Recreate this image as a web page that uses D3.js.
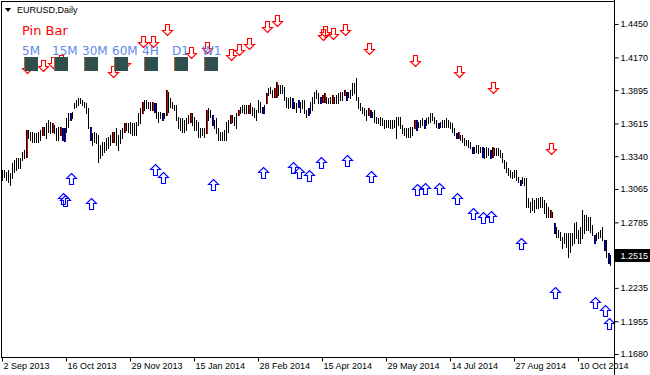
<!DOCTYPE html>
<html>
<head>
<meta charset="utf-8">
<script src="https://cdn.jsdelivr.net/npm/d3@7"></script>
<style>
  body { margin: 0; background: #fff; }
  svg { display: block; }
  .axis text { font-family: "Liberation Sans", Arial, sans-serif; font-size: 9px; fill: #000; }
  .axis line { stroke: #000; }
</style>
</head>
<body>
<svg id="chart" width="650" height="375"></svg>
<script>
// daily highs / lows, EURUSD, 2 Sep 2013 .. end Oct 2014
const highs = [
  1.3225,1.3225,1.3211,1.3225,1.3197,1.3281,1.3309,1.3323,1.3323,1.3323,
  1.3379,1.3393,1.3561,1.3561,1.3547,1.3547,1.3533,1.3533,1.3547,1.3561,
  1.3589,1.3589,1.3617,1.3644,1.3631,1.3617,1.3603,1.3575,1.3589,1.3589,
  1.3575,1.3575,1.3658,1.3700,1.3700,1.3714,1.3784,1.3812,1.3826,1.3826,
  1.3812,1.3798,1.3784,1.3742,1.3589,1.3533,1.3547,1.3533,1.3519,1.3435,
  1.3463,1.3463,1.3491,1.3505,1.3519,1.3547,1.3547,1.3575,1.3519,1.3561,
  1.3575,1.3617,1.3617,1.3617,1.3631,1.3617,1.3617,1.3631,1.3700,1.3742,
  1.3798,1.3812,1.3812,1.3798,1.3798,1.3798,1.3784,1.3784,1.3714,1.3714,
  1.3700,1.3700,1.3896,1.3882,1.3826,1.3798,1.3770,1.3770,1.3672,1.3658,
  1.3658,1.3644,1.3658,1.3686,1.3700,1.3700,1.3672,1.3644,1.3631,1.3575,
  1.3575,1.3575,1.3728,1.3742,1.3728,1.3686,1.3644,1.3658,1.3575,1.3547,
  1.3547,1.3561,1.3631,1.3644,1.3686,1.3686,1.3672,1.3700,1.3728,1.3756,
  1.3770,1.3770,1.3770,1.3770,1.3784,1.3756,1.3742,1.3728,1.3812,1.3798,
  1.3756,1.3770,1.3868,1.3910,1.3924,1.3896,1.3910,1.3966,1.3938,1.3938,
  1.3938,1.3924,1.3840,1.3826,1.3840,1.3826,1.3798,1.3784,1.3812,1.3798,
  1.3812,1.3812,1.3728,1.3742,1.3798,1.3840,1.3882,1.3896,1.3868,1.3840,
  1.3854,1.3868,1.3840,1.3826,1.3840,1.3854,1.3840,1.3854,1.3868,1.3882,
  1.3882,1.3896,1.3882,1.3882,1.3896,1.3952,1.3952,1.3994,1.3840,1.3784,
  1.3756,1.3742,1.3728,1.3742,1.3728,1.3714,1.3728,1.3672,1.3658,1.3672,
  1.3658,1.3644,1.3644,1.3644,1.3644,1.3644,1.3644,1.3672,1.3672,1.3672,
  1.3603,1.3575,1.3575,1.3575,1.3589,1.3589,1.3644,1.3644,1.3631,1.3644,
  1.3658,1.3644,1.3658,1.3672,1.3700,1.3700,1.3672,1.3644,1.3617,1.3631,
  1.3644,1.3644,1.3658,1.3644,1.3631,1.3617,1.3575,1.3533,1.3547,1.3519,
  1.3519,1.3491,1.3477,1.3477,1.3463,1.3421,1.3421,1.3435,1.3435,1.3421,
  1.3421,1.3407,1.3421,1.3407,1.3393,1.3421,1.3407,1.3407,1.3407,1.3393,
  1.3365,1.3309,1.3295,1.3239,1.3225,1.3211,1.3225,1.3225,1.3169,1.3141,
  1.3169,1.3155,1.3155,1.2987,1.2959,1.2987,1.2973,1.2987,1.2987,1.3001,
  1.3001,1.2973,1.2945,1.2917,1.2889,1.2875,1.2778,1.2750,1.2722,1.2708,
  1.2666,1.2694,1.2694,1.2694,1.2694,1.2694,1.2778,1.2791,1.2722,1.2750,
  1.2889,1.2847,1.2847,1.2833,1.2833,1.2764,1.2680,1.2694,1.2708,1.2722,
  1.2750,1.2638,1.2638,1.2526,1.2512
];
const lows = [
  1.3141,1.3169,1.3141,1.3127,1.3099,1.3155,1.3211,1.3225,1.3239,1.3239,
  1.3309,1.3323,1.3337,1.3491,1.3477,1.3463,1.3463,1.3463,1.3463,1.3477,
  1.3519,1.3519,1.3491,1.3547,1.3533,1.3547,1.3533,1.3477,1.3477,1.3519,
  1.3477,1.3470,1.3547,1.3589,1.3644,1.3658,1.3742,1.3756,1.3770,1.3784,
  1.3770,1.3756,1.3700,1.3575,1.3477,1.3435,1.3463,1.3449,1.3295,1.3323,
  1.3351,1.3379,1.3393,1.3407,1.3435,1.3463,1.3463,1.3435,1.3393,1.3449,
  1.3491,1.3547,1.3561,1.3547,1.3533,1.3519,1.3519,1.3519,1.3603,1.3617,
  1.3700,1.3728,1.3742,1.3742,1.3728,1.3728,1.3714,1.3658,1.3631,1.3658,
  1.3644,1.3658,1.3686,1.3714,1.3756,1.3742,1.3728,1.3644,1.3575,1.3561,
  1.3547,1.3547,1.3561,1.3617,1.3631,1.3603,1.3561,1.3561,1.3505,1.3505,
  1.3519,1.3505,1.3533,1.3644,1.3672,1.3603,1.3575,1.3533,1.3477,1.3477,
  1.3477,1.3477,1.3477,1.3547,1.3617,1.3631,1.3603,1.3575,1.3686,1.3700,
  1.3714,1.3700,1.3700,1.3700,1.3700,1.3686,1.3672,1.3644,1.3714,1.3714,
  1.3700,1.3700,1.3784,1.3854,1.3868,1.3840,1.3840,1.3840,1.3854,1.3868,
  1.3868,1.3812,1.3756,1.3742,1.3756,1.3742,1.3742,1.3714,1.3756,1.3714,
  1.3742,1.3700,1.3672,1.3686,1.3700,1.3728,1.3784,1.3826,1.3784,1.3784,
  1.3798,1.3798,1.3784,1.3784,1.3784,1.3784,1.3784,1.3784,1.3784,1.3812,
  1.3812,1.3854,1.3812,1.3840,1.3826,1.3854,1.3868,1.3812,1.3742,1.3728,
  1.3700,1.3686,1.3644,1.3686,1.3672,1.3672,1.3631,1.3617,1.3617,1.3603,
  1.3603,1.3575,1.3589,1.3589,1.3575,1.3575,1.3589,1.3491,1.3603,1.3575,
  1.3533,1.3519,1.3505,1.3505,1.3505,1.3519,1.3575,1.3561,1.3589,1.3589,
  1.3603,1.3575,1.3603,1.3617,1.3631,1.3644,1.3617,1.3589,1.3575,1.3589,
  1.3589,1.3589,1.3589,1.3589,1.3575,1.3547,1.3519,1.3491,1.3491,1.3477,
  1.3463,1.3435,1.3435,1.3421,1.3407,1.3365,1.3365,1.3379,1.3365,1.3379,
  1.3337,1.3323,1.3337,1.3351,1.3323,1.3337,1.3351,1.3351,1.3351,1.3337,
  1.3295,1.3239,1.3211,1.3183,1.3169,1.3155,1.3169,1.3141,1.3127,1.3099,
  1.3113,1.3099,1.2917,1.2917,1.2875,1.2889,1.2875,1.2903,1.2903,1.2917,
  1.2917,1.2861,1.2833,1.2833,1.2833,1.2833,1.2694,1.2666,1.2666,1.2638,
  1.2568,1.2610,1.2582,1.2498,1.2540,1.2596,1.2610,1.2652,1.2610,1.2610,
  1.2652,1.2694,1.2722,1.2722,1.2708,1.2680,1.2610,1.2638,1.2652,1.2666,
  1.2638,1.2554,1.2498,1.2442,1.2428
];
const lastPrice = 1.2515;

// bars flagged by the Pin Bar indicator
const bearPins = [12,20,25,29,55,61,70,75,82,94,102,114,118,123,132,136,137,160,161,165,171,183,206,228,245,274];
const bullPins = [30,31,34,44,76,80,105,130,145,148,153,159,172,184,207,211,218,227,235,240,244,259,276,296,301,303];

// signal arrows: bar index + price of the arrow tip
const downIdx   = [12,20,25,29,55,61,70,75,82,94,102,114,118,123,132,137,160,161,165,171,183,206,228,245,274];
const downPrice = [1.4039,1.4056,1.4081,1.4098,1.4005,1.4081,1.4257,1.4257,1.4358,1.4165,1.4207,1.4148,1.4190,1.4240,1.4383,1.4433,1.4316,1.4341,1.4324,1.4358,1.4198,1.4098,1.4005,1.3871,1.3359];
const upIdx     = [30,31,34,44,76,80,105,130,145,148,153,159,172,184,207,211,218,227,235,240,244,259,276,296,301,303];
const upPrice   = [1.3032,1.3015,1.3200,1.2990,1.3275,1.3208,1.3150,1.3250,1.3292,1.3250,1.3225,1.3334,1.3351,1.3217,1.3108,1.3116,1.3116,1.3032,1.2906,1.2873,1.2881,1.2655,1.2243,1.2160,1.2092,1.1983];

const priceTicks = [1.4450,1.4170,1.3895,1.3615,1.3340,1.3065,1.2785,1.2515,1.2235,1.1955,1.1680];
const dateTickIdx = [0,32,64,96,128,160,192,224,256,288];
const dateLabels = ["2 Sep 2013","16 Oct 2013","29 Nov 2013","15 Jan 2014","28 Feb 2014",
                    "15 Apr 2014","29 May 2014","14 Jul 2014","27 Aug 2014","10 Oct 2014"];
const timeframes = ["5M","15M","30M","60M","4H","D1","W1"];

const svg = d3.select("#chart");

const x = d3.scaleLinear().domain([0, highs.length - 1]).range([2, 2 + 2 * (highs.length - 1)]);
const y = d3.scaleLinear().domain([1.1680, 1.4450]).range([354, 24]);
const px = i => Math.round(x(i)) + 0.5;

// bars (high-low sticks)
const bars = svg.append("g").attr("shape-rendering", "crispEdges");
bars.selectAll("line")
    .data(highs.map((h, i) => ({ i, h, l: lows[i] })))
    .enter().append("line")
    .attr("x1", d => px(d.i)).attr("x2", d => px(d.i))
    .attr("y1", d => Math.round(y(d.h)))
    .attr("y2", d => Math.round(y(d.l)) + 1)
    .attr("stroke", "#000");

function pinMarks(list, color) {
    bars.append("g").selectAll("line")
        .data(list)
        .enter().append("line")
        .attr("x1", i => px(i) + 1).attr("x2", i => px(i) + 1)
        .attr("y1", i => Math.round(y(highs[i])))
        .attr("y2", i => Math.round(y(lows[i])) + 1)
        .attr("stroke", color);
}
pinMarks(bearPins, "#e00000");
pinMarks(bullPins, "#0000e0");

// hollow signal arrows
const upPath = "M0,0 L5,5 L2,5 L2,11 L-2,11 L-2,5 L-5,5 Z";
const downPath = "M0,0 L5,-5 L2,-5 L2,-11 L-2,-11 L-2,-5 L-5,-5 Z";

function arrows(idx, prices, path, color) {
    svg.append("g")
        .selectAll("path")
        .data(idx.map((i, k) => ({ i, p: prices[k] })))
        .enter().append("path")
        .attr("d", path)
        .attr("transform", d => `translate(${px(d.i) + 1},${Math.round(y(d.p)) + 0.5})`)
        .attr("fill", "none")
        .attr("stroke", color)
        .attr("stroke-width", 1.1);
}
arrows(downIdx, downPrice, downPath, "#ff0000");
arrows(upIdx, upPrice, upPath, "#0000ff");

// indicator panel
const panel = svg.append("g");
panel.append("text")
    .attr("x", 22).attr("y", 35)
    .attr("font-family", "DejaVu Sans, sans-serif").attr("font-size", 13)
    .attr("fill", "#ff0000")
    .text("Pin Bar");

const tf = panel.selectAll("g.tf").data(timeframes).enter().append("g").attr("class", "tf")
    .attr("transform", (d, i) => `translate(${24 + 30 * i},0)`);
tf.append("rect")
    .attr("x", 0).attr("y", 57).attr("width", 14).attr("height", 14)
    .attr("fill", "#2f4f4f");
tf.append("rect")
    .attr("x", 0).attr("y", 57).attr("width", 1).attr("height", 14)
    .attr("fill", "#b0683a");
tf.append("text")
    .attr("x", -2).attr("y", 55)
    .attr("font-family", "DejaVu Sans, sans-serif").attr("font-size", 12)
    .attr("fill", "#6088e8")
    .text(d => d);

// title
svg.append("path").attr("d", "M5,8 L11,8 L8,12 Z").attr("fill", "#000");
svg.append("text")
    .attr("x", 17).attr("y", 13)
    .attr("font-family", "Liberation Sans, Arial, sans-serif").attr("font-size", 9)
    .text("EURUSD,Daily");

// axes
const yAxis = d3.axisRight(y)
    .tickValues(priceTicks)
    .tickFormat(d3.format(".4f"))
    .tickSize(4).tickPadding(2);
svg.append("g").attr("class", "axis")
    .attr("transform", "translate(614.5,0)")
    .call(yAxis)
    .call(g => g.select(".domain").remove());

const xAxis = d3.axisBottom(x)
    .tickValues(dateTickIdx)
    .tickFormat((d, i) => dateLabels[i])
    .tickSize(4).tickPadding(1);
svg.append("g").attr("class", "axis")
    .attr("transform", "translate(0,357.5)")
    .call(xAxis)
    .call(g => g.select(".domain").remove())
    .call(g => g.selectAll(".tick line").attr("transform", d => `translate(${px(d) - x(d) - 0.5},0)`))
    .call(g => g.selectAll(".tick text").attr("text-anchor", "start").attr("x", 1));

// frame
const frame = svg.append("g").attr("stroke", "#000").attr("shape-rendering", "crispEdges");
frame.append("line").attr("x1", 1).attr("x2", 615).attr("y1", 1.5).attr("y2", 1.5);
frame.append("line").attr("x1", 1.5).attr("x2", 1.5).attr("y1", 1).attr("y2", 358);
frame.append("line").attr("x1", 1).attr("x2", 615).attr("y1", 357.5).attr("y2", 357.5);
frame.append("line").attr("x1", 614.5).attr("x2", 614.5).attr("y1", 0).attr("y2", 375);

// last price label
const yp = Math.round(y(lastPrice));
svg.append("rect").attr("x", 615).attr("y", yp - 6).attr("width", 35).attr("height", 13).attr("fill", "#000");
svg.append("text")
    .attr("x", 620.5).attr("y", yp + 3.5)
    .attr("font-family", "Liberation Sans, Arial, sans-serif").attr("font-size", 9)
    .attr("fill", "#fff")
    .text(d3.format(".4f")(lastPrice));
</script>
</body>
</html>
